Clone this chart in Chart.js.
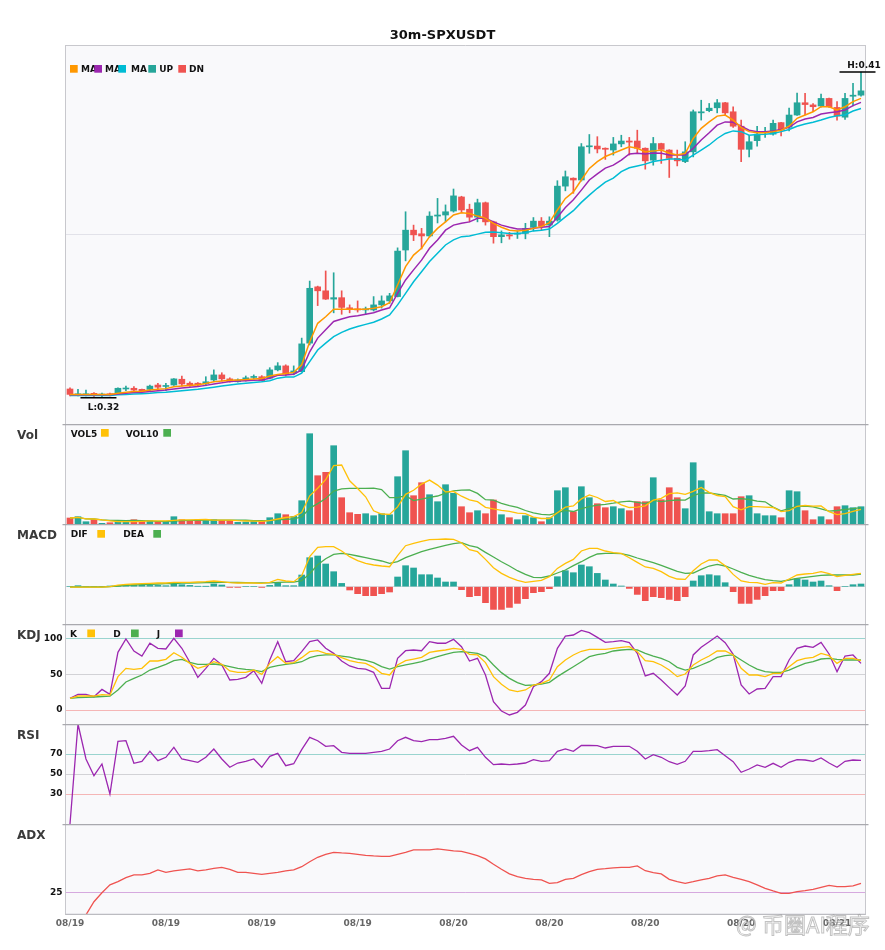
<!DOCTYPE html>
<html><head><meta charset="utf-8">
<script src="https://cdn.jsdelivr.net/npm/chart.js@4.4.0/dist/chart.umd.min.js"></script>
<style>
html,body{margin:0;padding:0;background:#fff;}
#wrap{position:relative;width:885px;height:950px;overflow:hidden;background:#fff;}
#wrap canvas{position:absolute;left:0;}
</style></head><body><div id="wrap">
<canvas id="cMain" width="885" height="424" style="top:0px;width:885px;height:424px"></canvas>
<canvas id="cVol" width="885" height="100" style="top:424px;width:885px;height:100px"></canvas>
<canvas id="cMacd" width="885" height="100" style="top:524px;width:885px;height:100px"></canvas>
<canvas id="cKdj" width="885" height="100" style="top:624px;width:885px;height:100px"></canvas>
<canvas id="cRsi" width="885" height="100" style="top:724px;width:885px;height:100px"></canvas>
<canvas id="cAdx" width="885" height="126" style="top:824px;width:885px;height:126px"></canvas>
</div>
<script>
// ---------------- DATA ----------------
const open = [0.3222,0.3206,0.3206,0.3210,0.3204,0.3208,0.3207,0.3222,0.3224,0.3221,
0.3221,0.3233,0.3229,0.3233,0.3249,0.3238,0.3238,0.3236,0.3247,0.3261,
0.3250,0.3242,0.3246,0.3254,0.3256,0.3252,0.3275,0.3286,0.3266,0.3270,
0.3349,0.3505,0.3494,0.3471,0.3475,0.3447,0.3444,0.3441,0.3441,0.3455,
0.3466,0.3478,0.3607,0.3662,0.3652,0.3646,0.3701,0.3704,0.3715,0.3754,
0.3720,0.3698,0.3738,0.3685,0.3644,0.3649,0.3651,0.3653,0.3670,0.3687,
0.3676,0.3690,0.3784,0.3806,0.3801,0.3893,0.3895,0.3889,0.3884,0.3901,
0.3909,0.3909,0.3889,0.3856,0.3902,0.3884,0.3861,0.3852,0.3879,0.3987,
0.3993,0.4001,0.4015,0.3990,0.3950,0.3886,0.3910,0.3932,0.3928,0.3960,
0.3947,0.3981,0.4015,0.4009,0.4006,0.4027,0.4002,0.3975,0.4033,0.4036];
const high = [0.3225,0.3221,0.3219,0.3212,0.3211,0.3211,0.3225,0.3230,0.3229,0.3222,
0.3233,0.3238,0.3238,0.3251,0.3258,0.3242,0.3240,0.3256,0.3275,0.3267,
0.3253,0.3250,0.3258,0.3261,0.3259,0.3281,0.3295,0.3289,0.3286,0.3363,
0.3521,0.3507,0.3549,0.3544,0.3494,0.3455,0.3466,0.3449,0.3478,0.3480,
0.3487,0.3613,0.3713,0.3676,0.3667,0.3713,0.3750,0.3732,0.3776,0.3756,
0.3734,0.3748,0.3740,0.3687,0.3660,0.3656,0.3660,0.3681,0.3697,0.3697,
0.3699,0.3799,0.3826,0.3807,0.3902,0.3927,0.3921,0.3890,0.3919,0.3925,
0.3919,0.3939,0.3890,0.3919,0.3903,0.3885,0.3884,0.3907,0.3995,0.4022,
0.4013,0.4024,0.4016,0.4004,0.3967,0.3925,0.3950,0.3947,0.3967,0.3961,
0.4000,0.4042,0.4041,0.4013,0.4039,0.4028,0.4018,0.4041,0.4069,0.4100];
const low = [0.3203,0.3203,0.3203,0.3201,0.3198,0.3203,0.3206,0.3217,0.3213,0.3214,
0.3217,0.3222,0.3217,0.3232,0.3230,0.3229,0.3231,0.3231,0.3242,0.3244,
0.3241,0.3241,0.3244,0.3250,0.3244,0.3250,0.3272,0.3258,0.3261,0.3269,
0.3344,0.3453,0.3470,0.3433,0.3429,0.3433,0.3435,0.3428,0.3438,0.3446,
0.3459,0.3477,0.3577,0.3633,0.3610,0.3643,0.3682,0.3685,0.3712,0.3710,
0.3685,0.3685,0.3676,0.3626,0.3627,0.3637,0.3639,0.3638,0.3660,0.3662,
0.3644,0.3687,0.3771,0.3764,0.3798,0.3875,0.3876,0.3858,0.3870,0.3893,
0.3870,0.3875,0.3831,0.3842,0.3847,0.3808,0.3840,0.3849,0.3865,0.3967,
0.3990,0.3987,0.3981,0.3947,0.3852,0.3865,0.3895,0.3919,0.3925,0.3923,
0.3937,0.3980,0.3981,0.3990,0.4003,0.4002,0.3967,0.3969,0.4006,0.4033];
const close = [0.3207,0.3207,0.3207,0.3206,0.3208,0.3206,0.3224,0.3224,0.3219,0.3215,
0.3230,0.3227,0.3230,0.3250,0.3236,0.3232,0.3233,0.3242,0.3261,0.3250,
0.3242,0.3247,0.3253,0.3255,0.3245,0.3275,0.3286,0.3263,0.3272,0.3347,
0.3501,0.3494,0.3471,0.3475,0.3448,0.3443,0.3441,0.3444,0.3455,0.3466,
0.3480,0.3604,0.3662,0.3649,0.3646,0.3701,0.3704,0.3713,0.3757,0.3718,
0.3698,0.3738,0.3685,0.3644,0.3649,0.3646,0.3653,0.3667,0.3687,0.3673,
0.3687,0.3784,0.3810,0.3801,0.3893,0.3895,0.3887,0.3886,0.3901,0.3909,
0.3906,0.3889,0.3854,0.3902,0.3886,0.3861,0.3854,0.3879,0.3990,0.3990,
0.4000,0.4015,0.3987,0.3950,0.3886,0.3907,0.3928,0.3935,0.3958,0.3939,
0.3981,0.4015,0.4010,0.4004,0.4027,0.4004,0.3978,0.4027,0.4036,0.4048];
const ma5 = [0.3207,0.3207,0.3207,0.3207,0.3207,0.3207,0.3210,0.3213,0.3215,0.3216,
0.3219,0.3221,0.3223,0.3228,0.3230,0.3232,0.3234,0.3237,0.3242,0.3244,
0.3246,0.3247,0.3248,0.3250,0.3251,0.3258,0.3262,0.3265,0.3268,0.3289,
0.3353,0.3404,0.3422,0.3443,0.3443,0.3443,0.3443,0.3443,0.3446,0.3450,
0.3461,0.3510,0.3561,0.3593,0.3612,0.3644,0.3667,0.3685,0.3704,0.3710,
0.3708,0.3701,0.3695,0.3681,0.3670,0.3662,0.3660,0.3662,0.3667,0.3672,
0.3683,0.3718,0.3750,0.3768,0.3801,0.3833,0.3852,0.3866,0.3875,0.3884,
0.3893,0.3889,0.3879,0.3881,0.3884,0.3875,0.3870,0.3875,0.3916,0.3944,
0.3962,0.3978,0.3981,0.3967,0.3947,0.3935,0.3932,0.3932,0.3935,0.3939,
0.3950,0.3972,0.3981,0.3990,0.4004,0.4004,0.3995,0.4004,0.4018,0.4027];
const ma10 = [0.3206,0.3206,0.3206,0.3206,0.3206,0.3206,0.3208,0.3210,0.3212,0.3213,
0.3215,0.3217,0.3219,0.3222,0.3225,0.3227,0.3229,0.3232,0.3236,0.3239,
0.3243,0.3244,0.3245,0.3246,0.3247,0.3252,0.3260,0.3261,0.3263,0.3275,
0.3325,0.3363,0.3386,0.3409,0.3416,0.3422,0.3425,0.3429,0.3433,0.3441,
0.3447,0.3487,0.3524,0.3552,0.3579,0.3612,0.3635,0.3662,0.3676,0.3681,
0.3685,0.3695,0.3695,0.3685,0.3676,0.3670,0.3665,0.3665,0.3667,0.3670,
0.3672,0.3698,0.3725,0.3746,0.3773,0.3801,0.3818,0.3834,0.3842,0.3856,
0.3873,0.3875,0.3873,0.3876,0.3875,0.3870,0.3870,0.3870,0.3889,0.3912,
0.3932,0.3953,0.3962,0.3961,0.3950,0.3939,0.3935,0.3935,0.3937,0.3941,
0.3947,0.3962,0.3970,0.3974,0.3984,0.3987,0.3990,0.3995,0.4007,0.4016];
const ma20 = [0.3204,0.3204,0.3204,0.3204,0.3204,0.3204,0.3206,0.3207,0.3208,0.3209,
0.3210,0.3212,0.3213,0.3215,0.3217,0.3219,0.3221,0.3224,0.3227,0.3230,
0.3233,0.3236,0.3238,0.3240,0.3242,0.3245,0.3252,0.3255,0.3255,0.3266,
0.3298,0.3330,0.3349,0.3367,0.3379,0.3388,0.3395,0.3401,0.3407,0.3416,
0.3427,0.3455,0.3487,0.3519,0.3547,0.3575,0.3598,0.3621,0.3635,0.3644,
0.3646,0.3651,0.3656,0.3657,0.3655,0.3653,0.3653,0.3655,0.3660,0.3662,
0.3665,0.3681,0.3699,0.3716,0.3739,0.3759,0.3778,0.3795,0.3806,0.3824,
0.3835,0.3840,0.3845,0.3852,0.3856,0.3859,0.3859,0.3856,0.3870,0.3884,
0.3898,0.3916,0.3930,0.3937,0.3935,0.3925,0.3927,0.3928,0.3930,0.3935,
0.3941,0.3950,0.3956,0.3961,0.3967,0.3974,0.3979,0.3981,0.3992,0.3999];
const volume = [6,7.3,2.3,4.3,0.7,1.3,2.7,2.3,4.3,2.7,
3.3,2.7,2.7,7.3,4.3,3.3,4.3,3.3,4.3,3.7,
3.3,1.7,2,3.3,3.3,6.3,10.3,9.3,7.7,23.3,
90.3,48.3,51.7,78.3,26.3,11.3,9.7,10.3,8.3,10.3,
9.3,47.3,73.3,28.3,41.3,29.3,22.3,39.3,30.7,17.3,
11.3,13.3,10.3,24,9.3,6.3,4.3,8.3,6.3,2.3,
6.3,33.3,36.3,12.3,37.3,26.3,20.3,16.3,17.3,15.3,
13.3,22.3,22.3,46.3,24.3,36.3,26.3,15.3,61.3,43.3,
12.3,10.3,10.3,10.3,27.3,28.3,10.3,8.3,8.3,6.3,
33.3,32.3,13.3,4.3,7.3,4.3,17.3,18.3,16.3,17.3];
const vol5 = [6,6.6,5.2,5,4.1,3.2,2.3,2.3,2.3,2.7,
3.1,3.1,3.1,3.7,4.1,4.1,4.4,4.5,3.9,3.8,
3.8,3.3,3,2.8,2.7,3.3,5,6.5,7.4,11.4,
28.2,35.8,44.3,58.4,59,43.2,35.5,27.2,13.2,10,
9.6,17.1,29.7,33.7,39.9,43.9,38.9,32.1,32.6,27.8,
24.2,22.4,16.6,15.2,13.6,12.6,10.8,10.4,6.9,5.5,
5.5,11.3,16.9,18.1,25.1,29.1,26.5,22.5,23.5,19.1,
16.5,16.9,18.1,23.9,25.7,30.3,31.1,29.7,32.7,36.5,
31.7,28.5,27.5,17.3,14.1,17.3,17.3,16.9,16.5,12.3,
13.3,17.7,18.7,17.9,18.1,12.3,9.3,10.3,12.7,14.7];
const vol10 = [6,6.65,5.2,5,4.1,3.65,3.5,3.4,3.5,3.4,
3.1,2.7,2.7,3,3.4,3.6,3.7,3.8,3.8,3.9,
3.9,3.8,3.75,3.35,3.25,3.55,4.15,4.75,5.1,7.05,
15.75,20.4,25.4,32.9,35.2,35.7,35.6,35.7,35.8,34.5,
26.4,26.3,28.4,23.4,24.9,26.7,28,30.9,33.1,33.8,
34,30.6,24.3,23.9,20.7,18.4,16.6,13.5,11.1,9.6,
9.1,11.1,13.7,12.5,15.3,17.3,18.9,19.7,20.8,22.1,
22.8,21.7,20.3,23.7,22.4,23.4,24,23.9,28.3,31.1,
31,29.8,28.6,25,25.3,24.5,22.9,22.2,16.9,13.2,
15.3,17.5,17.8,17.2,15.2,12.8,13.5,14.5,15.3,16.4];
const macdHist = [0,1,0,0,0,0.7,1.3,2,2,1.7,
1.3,1.3,1,3.3,2,1.3,0.3,0.3,2.7,1.7,
-0.7,-0.7,0,0,-0.7,1.3,4,1,1,11.7,
29,30.7,22.7,15,3.3,-3.3,-7,-9,-9,-7,
-5.3,9.7,21,18.7,12,12,8.7,4.7,4.7,-3,
-10,-9,-16,-22.7,-22.7,-20.7,-16.7,-12,-6,-5,
-2,10,16,14,21.7,20,13.3,6.7,2.7,0.7,
-1.7,-7.7,-14,-10,-11,-12.7,-14,-10,5.7,11,
12,11,4,-5,-16.7,-16.7,-12.7,-9,-4,-4,
2,8,6.7,4.7,5.7,1,-4,0,2,2.7];
const dif = [-0.5,-0.5,-0.5,-0.5,-0.5,0,1.5,2.3,2.7,3,
3.3,3.7,3.7,4.3,4.3,4.3,4.7,5,5.7,5,
4,3.7,3.7,3.7,3.3,4.3,7.3,5.7,5,11,
30,39.3,40,40,35.7,30,26,23.3,21.7,20.7,
20,31,41,43.3,45.3,47,47.3,47.7,47.3,44,
37,35,27.3,19,13.3,9.3,6.3,4.3,5.3,6.3,
10,18.3,23.3,27.3,35.7,38.3,38.3,35.7,34,33.3,
29,24.3,19.7,18.3,15,10.3,7.7,7.3,16,22.7,
26.7,26.7,21,12.3,5.7,4.3,4,2.3,4,3.7,
7.7,11.7,12.7,13.3,15,13,10,11.3,12.3,13.3];
const dea = [-0.3,-0.3,-0.3,-0.3,-0.3,0,0.7,1.3,1.7,2,
2.3,2.7,3,3.2,3.5,3.7,3.8,4,4.2,4.3,
4.3,4.2,4,3.9,3.8,3.8,4.3,4.5,4.6,6,
13,22,28,32.3,33.3,32.3,30.7,29,27.3,25.7,
23.3,25,29,32,35,37.3,39.3,41.3,43,44,
41,39.3,34.3,29.7,25,20.7,16,12.3,9.3,9,
10.7,13.7,16.7,21,25,29.3,32.7,33.3,33.3,33,
31.3,28.7,26.3,24,21.3,18.3,15.3,13.3,13.7,17.3,
20.7,22.3,20.7,17.7,14.3,11.3,9,7,6,5.3,
6.7,8.3,9.3,10.3,11.3,11.7,11.7,11.7,11.7,12.7];
const kLine = [16.5,19.7,19.7,19.7,21.7,21,47,58.7,57.3,58.7,
69,69,71.4,80.7,74.2,65.7,58.7,62,68,64.3,
55,53.1,53.1,56.3,50.2,65.7,75.1,65.7,66.7,73.7,
82.2,83.5,79.8,78.4,73.7,69.5,67.2,65.7,60.1,51.7,
49.3,63.4,69.5,71.8,74.2,81.2,83.1,84.5,86.9,85.5,
78.4,77.5,66.7,47,36.2,28.2,25.8,28.2,35.2,37.6,
42.3,61,70.4,77.5,82.7,85.5,85.5,85.5,86.9,88.3,
89.2,82.2,69.5,68,63.4,56.3,47,50.7,63.4,70.4,
76,83.1,83.1,77.5,58.7,49.3,49.3,47,51.7,51.7,
61,69.5,72.8,74.2,79.8,76.5,65.7,72.8,72.8,69.5];
const dLine = [16.5,17.5,17.8,18.3,19,19.5,28.2,39.4,44.6,49.3,
56.3,60.1,64.3,69.5,71.4,67.2,64.3,64.3,64.8,63.4,
61,58.7,57.3,56.3,54,60.1,62.4,64.3,65.7,68,
73.7,76.5,77.5,77.5,76,74.6,71.8,70,66.7,61,
57.7,61,63.4,65.7,68,71.8,75.1,78.4,81.2,82.2,
81.2,79.8,75.1,63.4,52.6,44.6,38.5,34.7,35.2,36.6,
39,47,54,61,68,75.1,77.9,79.8,83.1,84.5,
85.5,84.5,79.8,76,72.8,68,60.1,56.3,58.7,63.4,
68,74.2,76.5,77.5,70.4,63.4,57.7,54,53.1,53.1,
56.3,61,65.7,68,71.8,72.8,71.4,70.4,70.4,70.4];
const jLine = [16.5,22,22,18.8,29,22,81.2,100,83,76,
94,86.9,85.9,101,86.9,67.2,46,58.7,72.8,63.4,
42.3,43.2,46,55.4,37.6,70.4,96.2,68,69.5,82.2,
96.2,98.6,86.9,79.8,69,62,58.7,57.7,53.1,30.5,
30.5,72.8,83.5,84.5,83.5,96.2,94,94,99.5,89.2,
69,72.8,49.3,11.7,-1.4,-7,-3.3,7,32.8,39.9,
51.7,86.9,104,105.6,112,108.9,102.3,95.3,96.2,97.6,
94.8,79.8,47.9,51.7,42.3,31.5,21.1,33.8,77.5,88.3,
96.2,104.2,94.8,78.4,35.2,22.5,29.6,30.5,47,47,
70.4,86.9,90.1,88.3,95.3,78.9,54,76,77.5,65.7];
const rsi = [0,100,65,48.3,60,30,82.7,83.3,60.7,62.7,
72.7,63.3,66.7,76.7,65,63.3,61.7,66.7,75,65,
56.7,61,62.7,65,56.7,67.7,70.7,58.3,60.3,74.3,
86.7,83.3,77.7,78.3,71.7,70.7,70.7,70.7,71.7,72.7,
75,83.3,86.7,83.3,82.3,84.3,84.3,85.7,87.7,79,
73.3,76.7,66.7,59.3,60,59.3,60,61,64.3,62.7,
63.3,72.7,75,72.7,78.5,78.7,78.3,76,77.7,77.7,
77.7,72.7,65,69.3,66.7,62.3,59.7,62.7,72.7,72.7,
73.3,74.3,68.3,62.3,51.7,55,59,56.7,60.7,56.7,
61.7,64.3,64,62.7,66,61,56.7,62.7,64,63.7];
const adx = [13.7,13.7,13.7,20.3,24.8,28.7,30.3,32.3,33.7,33.7,
34.5,36.2,35,35.7,36.2,36.7,35.7,36.2,37,37.5,
36.5,35,35,34.5,34,34.5,35,35.7,36.2,37.8,
40.3,42.5,44,45,44.7,44.5,44,43.5,43.2,43,
43,44,45,46.2,46.2,46.2,46.7,46.2,45.7,45.5,
44.5,43.3,41.7,39,36.5,34.2,32.8,32,31.5,31.2,
29.5,29.8,31.5,32,33.8,35.3,36.5,36.8,37.2,37.5,
37.5,38.2,35.8,34.8,34.2,31.5,30.3,29.5,30.3,31.2,
32,33.2,33.7,32.5,31.5,30.3,28.7,27,25.7,24.5,
24.5,25.3,25.8,26.5,27.5,28.5,27.8,27.8,28.2,29.5];
const priceGrid = [0.365];
const kdjTicks = [0, 50, 100];
const rsiTicks = [30, 50, 70];
const adxTicks = [25];
const macdTicks = [0];

// categories: 30-minute candles from 08/19 00:00
const times = [];
for (let i = 0; i < open.length; i++) {
  const d = new Date(Date.UTC(2025, 7, 19, 0, 0) + i * 1800000);
  const p = n => String(n).padStart(2, '0');
  times.push(p(d.getUTCMonth() + 1) + '/' + p(d.getUTCDate()) + ' ' + p(d.getUTCHours()) + ':' + p(d.getUTCMinutes()));
}

// ---------------- STYLE ----------------
Chart.defaults.font.family = '"DejaVu Sans", sans-serif';
const UP = '#26a69a', DN = '#ef5350';
const ORANGE = '#ff9800', PURPLE = '#9c27b0', CYAN = '#00bcd4', YELLOW = '#ffc107', GREEN = '#4caf50';
const AREA_BG = '#f9f9fb';
const LFONT = 'bold 9px "DejaVu Sans"';
const candleColors = open.map((o, i) => close[i] >= o ? UP : DN);
const histColors = macdHist.map(v => v >= 0 ? UP : DN);

function panelPlugin(cfg) {
  return {
    id: 'panel',
    beforeDraw(chart) {
      const { ctx, chartArea: a } = chart;
      ctx.save();
      ctx.fillStyle = AREA_BG;
      ctx.fillRect(a.left, a.top, a.right - a.left, a.bottom - a.top);
      ctx.restore();
    },
    afterDraw(chart) {
      const { ctx, chartArea: a } = chart;
      ctx.save();
      ctx.lineWidth = 1;
      ctx.strokeStyle = '#c8c8cd';
      ctx.beginPath();
      ctx.moveTo(a.left - 0.5, a.top); ctx.lineTo(a.left - 0.5, a.bottom);
      ctx.moveTo(a.right + 0.5, a.top); ctx.lineTo(a.right + 0.5, a.bottom);
      ctx.stroke();
      if (cfg.main) {
        ctx.strokeStyle = '#c8c8cd'; ctx.lineWidth = 1;
        ctx.beginPath(); ctx.moveTo(a.left - 0.5, a.top + 0.5); ctx.lineTo(a.right + 0.5, a.top + 0.5); ctx.stroke();
      } else {
        ctx.strokeStyle = '#a9a9ae'; ctx.lineWidth = 1.3;
        ctx.beginPath(); ctx.moveTo(a.left - 3.5, a.top + 0.6); ctx.lineTo(a.right + 3.5, a.top + 0.6); ctx.stroke();
      }
      if (cfg.bottom) {
        ctx.strokeStyle = '#bcbcc1'; ctx.lineWidth = 1.3;
        ctx.beginPath(); ctx.moveTo(a.left - 0.5, a.bottom - 0.6); ctx.lineTo(a.right + 0.5, a.bottom - 0.6); ctx.stroke();
      }
      if (cfg.name) {
        ctx.font = 'bold 12px "DejaVu Sans"'; ctx.fillStyle = '#3a3a3a';
        ctx.textAlign = 'left'; ctx.textBaseline = 'alphabetic';
        ctx.fillText(cfg.name, 17, a.top + 15.3);
      }
      if (cfg.legend) {
        ctx.font = LFONT; ctx.textAlign = 'left'; ctx.textBaseline = 'alphabetic';
        cfg.legend.forEach(it => { if (it.t) { ctx.fillStyle = '#111'; ctx.fillText(it.t, it.x, a.top + cfg.lBase); } });
        cfg.legend.forEach(it => { if (it.c) { ctx.fillStyle = it.c; ctx.fillRect(it.x, a.top + cfg.lBox, 7.7, 7.7); } });
      }
      if (cfg.draw) cfg.draw(ctx, chart);
      ctx.restore();
    }
  };
}

function yAxis(min, max, tickVals, gridColor, showLabels) {
  return {
    min: min, max: max,
    afterFit: s => { s.width = 66; s.paddingTop = 0; s.paddingBottom = 0; },
    afterBuildTicks: s => { s.ticks = (tickVals || []).map(v => ({ value: v })); },
    ticks: { display: !!showLabels, padding: 3.5, color: '#111', font: { size: 9, weight: 'bold' } },
    grid: { display: !!tickVals, drawTicks: false, lineWidth: 1, color: gridColor || '#ddd' },
    border: { display: false }
  };
}
const xHidden = { display: false, offset: true, grid: { display: false } };
const baseOpts = (scales, padTop) => ({
  responsive: false, animation: false, events: [],
  layout: { padding: { top: padTop || 0, right: 20, left: 0, bottom: 0 } },
  plugins: { legend: { display: false }, tooltip: { enabled: false } },
  scales: scales
});
const lineDs = (data, color, width, order) => ({ type: 'line', data: data, borderColor: color, borderWidth: width, pointRadius: 0, tension: 0, fill: false, order: order || 0 });

// ---------------- MAIN (candles) ----------------
new Chart(document.getElementById('cMain'), {
  type: 'bar',
  data: {
    labels: times,
    datasets: [
      lineDs(ma5, ORANGE, 1.5, 0),
      lineDs(ma10, PURPLE, 1.5, 0),
      lineDs(ma20, CYAN, 1.5, 0),
      { data: low.map((l, i) => [l, high[i]]), backgroundColor: candleColors, barThickness: 1, grouped: false, order: 3 },
      { data: open.map((o, i) => [o, close[i]]), backgroundColor: candleColors, barThickness: 6, minBarLength: 1, grouped: false, order: 2 }
    ]
  },
  options: baseOpts({ x: xHidden, y: yAxis(0.3125, 0.4175, priceGrid, '#e2e2e9', false) }, 45),
  plugins: [panelPlugin({
    main: true,
    legend: [
      { c: ORANGE, x: 70 }, { t: 'MA', x: 81 }, { c: PURPLE, x: 94.3 }, { t: 'MA', x: 105 },
      { c: CYAN, x: 118.3 }, { t: 'MA', x: 131 }, { c: UP, x: 148.3 }, { t: 'UP', x: 159.3 },
      { c: DN, x: 178.3 }, { t: 'DN', x: 189 }
    ],
    lBase: 27.3, lBox: 20,
    draw(ctx, chart) {
      const xs = chart.scales.x, ys = chart.scales.y;
      ctx.font = 'bold 13px "DejaVu Sans"'; ctx.fillStyle = '#111'; ctx.textAlign = 'center'; ctx.textBaseline = 'alphabetic';
      ctx.fillText('30m-SPXUSDT', 442.5, 39);
      let hi = 0, lo = 0;
      high.forEach((v, i) => { if (v > high[hi]) hi = i; });
      low.forEach((v, i) => { if (v < low[lo]) lo = i; });
      const xh = xs.getPixelForValue(hi), yh = ys.getPixelForValue(high[hi]);
      const xl = xs.getPixelForValue(lo), yl = ys.getPixelForValue(low[lo]);
      ctx.strokeStyle = '#000'; ctx.lineWidth = 1.5;
      ctx.beginPath(); ctx.moveTo(xh - 21.5, yh); ctx.lineTo(xh + 14.5, yh); ctx.stroke();
      ctx.beginPath(); ctx.moveTo(xl - 21.5, yl); ctx.lineTo(xl + 14.5, yl); ctx.stroke();
      ctx.font = LFONT; ctx.fillStyle = '#111'; ctx.textAlign = 'center';
      ctx.fillText('H:' + high[hi].toFixed(2), xh + 3, yh - 4.5);
      ctx.fillText('L:' + low[lo].toFixed(2), xl + 1.5, yl + 12.3);
    }
  })]
});

// ---------------- VOLUME ----------------
new Chart(document.getElementById('cVol'), {
  type: 'bar',
  data: {
    labels: times,
    datasets: [
      lineDs(vol5, YELLOW, 1.3, 0),
      lineDs(vol10, GREEN, 1.3, 0),
      { data: volume, backgroundColor: candleColors, barThickness: 6, grouped: false, order: 2 }
    ]
  },
  options: baseOpts({ x: xHidden, y: yAxis(0, 100, null, null, false) }),
  plugins: [panelPlugin({
    name: 'Vol',
    legend: [{ t: 'VOL5', x: 70.7 }, { c: YELLOW, x: 101 }, { t: 'VOL10', x: 125.7 }, { c: GREEN, x: 163.3 }],
    lBase: 12.7, lBox: 5
  })]
});

// ---------------- MACD ----------------
new Chart(document.getElementById('cMacd'), {
  type: 'bar',
  data: {
    labels: times,
    datasets: [
      lineDs(dif, YELLOW, 1.3, 0),
      lineDs(dea, GREEN, 1.3, 0),
      { data: macdHist, backgroundColor: histColors, barThickness: 6, grouped: false, order: 2 }
    ]
  },
  options: baseOpts({ x: xHidden, y: yAxis(-37.3, 62.7, macdTicks, '#d9d9dd', false) }),
  plugins: [panelPlugin({
    name: 'MACD',
    legend: [{ t: 'DIF', x: 70.7 }, { c: YELLOW, x: 97.3 }, { t: 'DEA', x: 123.3 }, { c: GREEN, x: 153.3 }],
    lBase: 13.3, lBox: 6
  })]
});

// ---------------- KDJ ----------------
const levelColor = (up, mid, dn) => c => {
  const v = c.tick ? c.tick.value : null;
  return v === up ? 'rgba(38,166,154,0.45)' : v === dn ? 'rgba(239,83,80,0.4)' : '#d2d2d6';
};
new Chart(document.getElementById('cKdj'), {
  type: 'line',
  data: {
    labels: times,
    datasets: [lineDs(kLine, YELLOW, 1.3), lineDs(dLine, GREEN, 1.3), lineDs(jLine, PURPLE, 1.3)]
  },
  options: baseOpts({ x: xHidden, y: yAxis(-19.7, 121.1, kdjTicks, levelColor(100, 50, 0), true) }),
  plugins: [panelPlugin({
    name: 'KDJ',
    legend: [{ t: 'K', x: 70 }, { c: YELLOW, x: 87.3 }, { t: 'D', x: 113.3 }, { c: GREEN, x: 131 }, { t: 'J', x: 156.7 }, { c: PURPLE, x: 175 }],
    lBase: 13.3, lBox: 5.5
  })]
});

// ---------------- RSI ----------------
new Chart(document.getElementById('cRsi'), {
  type: 'line',
  data: { labels: times, datasets: [lineDs(rsi, PURPLE, 1.3)] },
  options: baseOpts({ x: xHidden, y: yAxis(0, 100, rsiTicks, levelColor(70, 50, 30), true) }),
  plugins: [panelPlugin({ name: 'RSI' })]
});

// ---------------- ADX ----------------
new Chart(document.getElementById('cAdx'), {
  type: 'line',
  data: { labels: times, datasets: [lineDs(adx, '#ef5350', 1.3)] },
  options: baseOpts({
    x: {
      offset: true, grid: { display: false, drawTicks: false }, border: { display: false },
      afterFit: s => { s.height = 35; s.paddingLeft = 0; s.paddingRight = 0; },
      ticks: {
        autoSkip: false, maxRotation: 0, minRotation: 0, padding: 3, color: '#666',
        font: { size: 9, weight: 'bold' },
        callback: (v, i) => (i % 12 === 0 ? times[i].slice(0, 5) : null)
      }
    },
    y: yAxis(13.65, 59.15, adxTicks, 'rgba(186,104,200,0.55)', true)
  }),
  plugins: [panelPlugin({
    name: 'ADX', bottom: true,
    draw(ctx, chart) {
      ctx.font = '22px "Noto Sans CJK SC"'; ctx.textAlign = 'left'; ctx.textBaseline = 'alphabetic';
      ctx.lineWidth = 1; ctx.strokeStyle = 'rgba(120,120,120,0.45)'; ctx.fillStyle = 'rgba(255,255,255,0.55)';
      ctx.fillText('@', 736, 108); ctx.strokeText('@', 736, 108);
      ctx.fillText('币圈AI程序', 762, 109); ctx.strokeText('币圈AI程序', 762, 109);
    }
  })]
});
</script>
</body></html>
